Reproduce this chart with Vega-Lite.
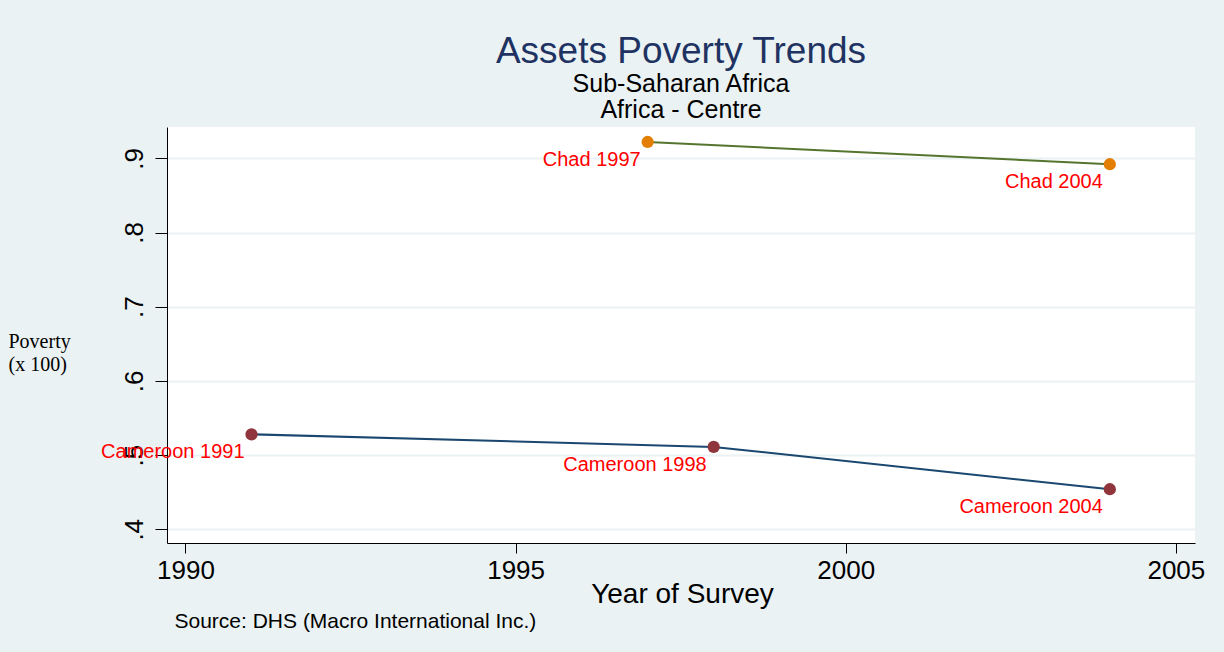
{
  "$schema": "https://vega.github.io/schema/vega-lite/v6.json",
  "width": 1028,
  "height": 416,
  "autosize": {"type": "none"},
  "padding": {"left": 167, "top": 127, "right": 29, "bottom": 109},
  "background": "#EAF2F3",
  "config": {"view": {"fill": "white", "stroke": null}, "font": "Liberation Sans"},
  "title": {
    "text": "Assets Poverty Trends",
    "subtitle": ["Sub-Saharan Africa", "Africa - Centre"],
    "anchor": "middle",
    "frame": "group",
    "font": "Liberation Sans",
    "fontSize": 37,
    "fontWeight": "normal",
    "color": "#1F3363",
    "subtitleFont": "Liberation Sans",
    "subtitleFontSize": 25,
    "subtitleColor": "black",
    "subtitleLineHeight": 26,
    "subtitlePadding": 1,
    "offset": 3
  },
  "data": {
    "values": [
      {"country": "Chad", "year": 1997, "poverty": 0.922, "label": "Chad 1997"},
      {"country": "Chad", "year": 2004, "poverty": 0.892, "label": "Chad 2004"},
      {"country": "Cameroon", "year": 1991, "poverty": 0.528, "label": "Cameroon 1991"},
      {"country": "Cameroon", "year": 1998, "poverty": 0.511, "label": "Cameroon 1998"},
      {"country": "Cameroon", "year": 2004, "poverty": 0.454, "label": "Cameroon 2004"}
    ]
  },
  "encoding": {
    "y": {
      "field": "poverty",
      "type": "quantitative",
      "scale": {"domain": [0.3815, 0.9422], "nice": false, "zero": false},
      "axis": {
        "values": [0.4, 0.5, 0.6, 0.7, 0.8, 0.9],
        "labelExpr": "replace(format(datum.value, '.1f'), '0.', '.')",
        "labelAngle": 270,
        "labelAlign": "center",
        "labelBaseline": "bottom",
        "labelFontSize": 26,
        "labelColor": "black",
        "labelPadding": 8,
        "tickSize": 12,
        "tickColor": "black",
        "domainColor": "black",
        "grid": true,
        "gridColor": "#EAF2F3",
        "gridWidth": 2,
        "title": ["Poverty", "(x 100)"],
        "titleFont": "Liberation Serif",
        "titleFontSize": 20,
        "titleFontWeight": "normal",
        "titleColor": "black",
        "titleAngle": 0,
        "titleAlign": "left",
        "titleBaseline": "alphabetic",
        "titleLineHeight": 23,
        "titleX": -159,
        "titleY": 220
      }
    }
  },
  "layer": [
    {
      "mark": {"type": "line", "strokeWidth": 2},
      "encoding": {
        "x": {
          "field": "year",
          "type": "quantitative",
          "scale": {"domain": [1989.72, 2005.29], "nice": false, "zero": false},
          "axis": {
            "values": [1990, 1995, 2000, 2005],
            "format": "d",
            "grid": false,
            "domainColor": "black",
            "tickColor": "black",
            "tickSize": 10,
            "labelFontSize": 26,
            "labelColor": "black",
            "labelPadding": 4,
            "labelFlush": false,
            "title": "Year of Survey",
            "titleFontSize": 28,
            "titleFontWeight": "normal",
            "titleColor": "black",
            "titleBaseline": "alphabetic",
            "titleX": 515,
            "titleY": 59
          }
        },
        "color": {
          "field": "country",
          "type": "nominal",
          "scale": {"domain": ["Cameroon", "Chad"], "range": ["#1A476F", "#55752F"]},
          "legend": null
        }
      }
    },
    {
      "mark": {"type": "circle", "size": 150, "opacity": 1},
      "encoding": {
        "x": {
          "field": "year",
          "type": "quantitative",
          "axis": {
            "orient": "bottom",
            "domain": false,
            "ticks": false,
            "labels": false,
            "grid": false,
            "title": "Source: DHS (Macro International Inc.)",
            "titleAnchor": "start",
            "titleAlign": "left",
            "titleBaseline": "alphabetic",
            "titleX": 7,
            "titleY": 84,
            "titleFontSize": 21,
            "titleFontWeight": "normal",
            "titleColor": "black"
          }
        },
        "color": {
          "field": "country",
          "type": "nominal",
          "scale": {"domain": ["Cameroon", "Chad"], "range": ["#90353B", "#E37E00"]},
          "legend": null
        }
      }
    },
    {
      "mark": {"type": "text", "align": "right", "baseline": "middle", "dx": -7, "dy": 18, "fontSize": 20, "color": "#FF0000"},
      "encoding": {
        "x": {"field": "year", "type": "quantitative", "axis": null},
        "text": {"field": "label"}
      }
    }
  ],
  "resolve": {"scale": {"color": "independent"}, "axis": {"x": "independent"}}
}
